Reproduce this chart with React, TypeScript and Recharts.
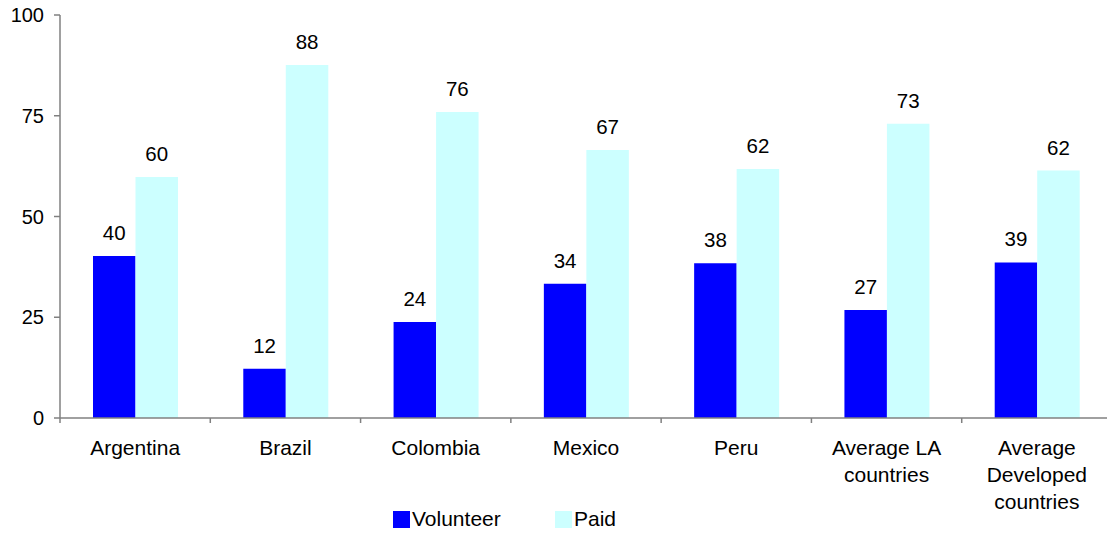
import React from "react";
import { BarChart, Bar, XAxis, YAxis, LabelList, Legend } from "recharts";

const categories = [
  "Argentina",
  "Brazil",
  "Colombia",
  "Mexico",
  "Peru",
  "Average LA\ncountries",
  "Average\nDeveloped\ncountries",
];
const seriesNames = ["Volunteer", "Paid"];
const volunteer = [40.2, 12.2, 23.8, 33.3, 38.4, 26.8, 38.6];
const paid = [59.8, 87.6, 75.9, 66.5, 61.8, 73.0, 61.4];
const volunteerLabels = [40, 12, 24, 34, 38, 27, 39];
const paidLabels = [60, 88, 76, 67, 62, 73, 62];
const yTicks = [0, 25, 50, 75, 100];
const boundaryTicks = [0, 1, 2, 3, 4, 5, 6, 7];

const data = categories.map((c, i) => ({
  name: c,
  idx: i + 0.5,
  Volunteer: volunteer[i],
  Paid: paid[i],
  vLabel: volunteerLabels[i],
  pLabel: paidLabels[i],
}));

const FONT = "'Liberation Sans', Arial, sans-serif";
const AXIS = "#808080";
const C_VOL = "#0000FF";
const C_PAID = "#CCFFFF";

const CatTick = (props: any) => {
  const { x, y, payload } = props;
  const lines = String(payload.value).split("\n");
  return (
    <text x={x} y={y} textAnchor="middle" fontSize={21} fontFamily={FONT} fill="#000">
      {lines.map((l, i) => (
        <tspan key={i} x={x} dy={i === 0 ? 28 : 27}>
          {l}
        </tspan>
      ))}
    </text>
  );
};

const EmptyTick = () => <g />;

const LegendContent = (props: any) => {
  const payload = [...(props.payload || [])].sort(
    (a: any, b: any) => seriesNames.indexOf(a.value) - seriesNames.indexOf(b.value)
  );
  return (
    <div style={{ display: "flex", height: 30, alignItems: "center", fontFamily: FONT, fontSize: 21 }}>
      {payload.map((p: any, i: number) => (
        <div key={i} style={{ display: "flex", alignItems: "center", width: 162 }}>
          <div style={{ width: 17, height: 17, background: p.color, marginRight: 2 }} />
          <span style={{ color: "#000" }}>{p.value}</span>
        </div>
      ))}
    </div>
  );
};

export default function App() {
  return (
    <div style={{ position: "absolute", left: 0, top: 0, width: 1107, height: 534, overflow: "hidden", background: "#fff" }}>
      <BarChart
        width={1115}
        height={534}
        data={data}
        margin={{ top: 15, right: 3, left: 0, bottom: 0 }}
        barGap={0}
        barSize={42.5}
      >
        <XAxis
          xAxisId="a_grid"
          type="number"
          dataKey="idx"
          domain={[0, 7]}
          ticks={boundaryTicks}
          height={1}
          tickSize={5}
          tick={EmptyTick}
          axisLine={{ stroke: AXIS, strokeWidth: 1.5 }}
          tickLine={{ stroke: AXIS, strokeWidth: 1.5 }}
          allowDataOverflow
        />
        <XAxis
          xAxisId="b_cat"
          dataKey="name"
          height={85}
          axisLine={false}
          tickLine={false}
          tick={<CatTick />}
          interval={0}
        />
        <YAxis
          width={60}
          domain={[0, 100]}
          ticks={yTicks}
          tickSize={6}
          tickMargin={10}
          axisLine={{ stroke: AXIS, strokeWidth: 1.5 }}
          tickLine={{ stroke: AXIS, strokeWidth: 1.5 }}
          tick={{ fontSize: 20, fontFamily: FONT, fill: "#000" }}
        />
        <Legend
          verticalAlign="bottom"
          content={<LegendContent />}
          wrapperStyle={{ left: 393, width: 330 }}
        />
        <Bar dataKey="Volunteer" xAxisId="b_cat" fill={C_VOL} isAnimationActive={false}>
          <LabelList dataKey="vLabel" position="top" offset={16} fontSize={20.5} fontFamily={FONT} fill="#000" />
        </Bar>
        <Bar dataKey="Paid" xAxisId="b_cat" fill={C_PAID} isAnimationActive={false}>
          <LabelList dataKey="pLabel" position="top" offset={16} fontSize={20.5} fontFamily={FONT} fill="#000" />
        </Bar>
      </BarChart>
    </div>
  );
}
